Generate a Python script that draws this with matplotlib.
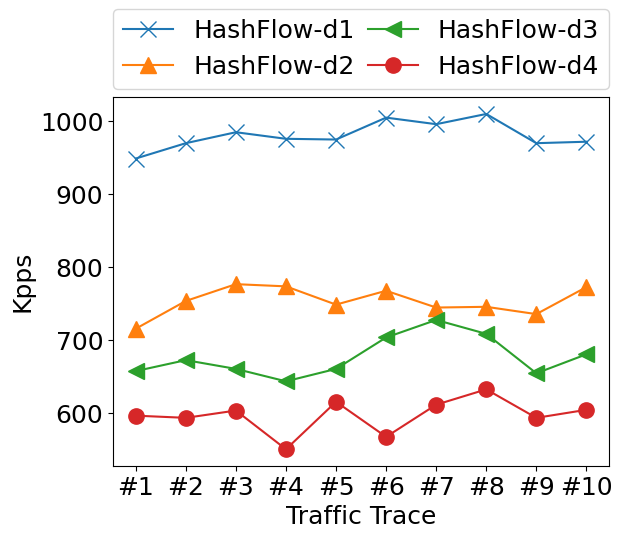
import numpy as np
import matplotlib
matplotlib.use("Agg")
import matplotlib.pyplot as plt

traces = ["#1", "#2", "#3", "#4", "#5", "#6", "#7", "#8", "#9", "#10"]

d1 = [949, 970, 985, 976, 975, 1005, 996, 1010, 970, 972]
d2 = [716, 754, 777, 774, 749, 768, 745, 746, 736, 773]
d3 = [658, 673, 661, 644, 661, 704, 728, 709, 655, 681]
d4 = [597, 594, 604, 551, 616, 568, 612, 633, 594, 605]

plt.rcParams['font.size'] = 18

fig = plt.figure(figsize=(6.22, 5.4), dpi=100)
ax = fig.add_axes([0.182, 0.137, 0.797, 0.683])

x = np.arange(len(traces))
ax.plot(x, d1, marker='x', markersize=11, color='tab:blue', label='HashFlow-d1')
ax.plot(x, d2, marker='^', markersize=11, color='tab:orange', label='HashFlow-d2')
ax.plot(x, d3, marker='<', markersize=11, color='tab:green', label='HashFlow-d3')
ax.plot(x, d4, marker='o', markersize=11, color='tab:red', label='HashFlow-d4')

ax.set_xticks(x)
ax.set_xticklabels(traces)
ax.set_yticks([600, 700, 800, 900, 1000])
ax.set_xlabel("Traffic Trace")
ax.set_ylabel("Kpps")

ax.legend(loc='lower left', bbox_to_anchor=(0, 1.022, 1, 0.2), mode='expand',
          ncol=2, borderaxespad=0, handlelength=2, columnspacing=0.5)

fig.savefig("out.png", dpi=100)
